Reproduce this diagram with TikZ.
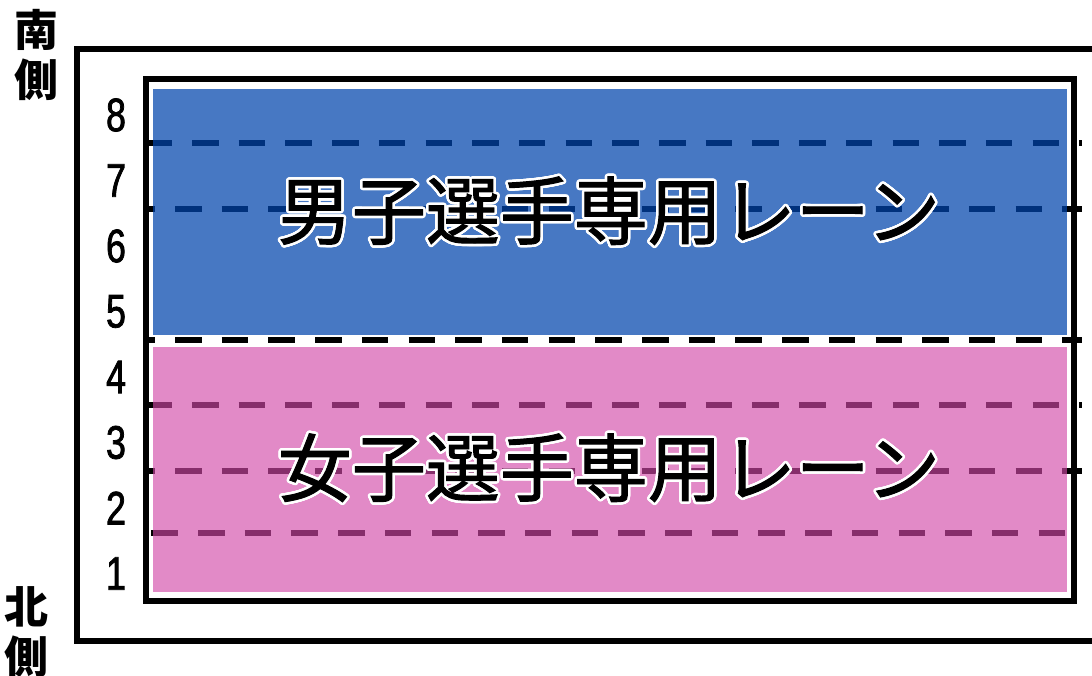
\documentclass[tikz,border=0pt]{standalone}
\usepackage{fontspec}
\usepackage{contour}
\setmainfont{Noto Sans CJK JP}
\newfontfamily\numfont[FakeStretch=0.76, FakeBold=1.6]{Liberation Sans}
\newfontfamily\titlefont[FakeBold=1.3]{Noto Sans CJK JP}
\contourlength{2.5pt}
\contournumber{32}
\definecolor{boysblue}{RGB}{0,68,172}
\definecolor{girlspink}{RGB}{210,72,168}

\begin{document}
\begin{tikzpicture}[
        x=1pt, y=-1pt,
        frame/.style={draw=black, line width=6pt},
        lane/.style={draw=black, line width=6pt, dash pattern=on 26.5pt off 20.2pt},
        laneno/.style={font=\numfont\fontsize{47}{50}\selectfont, inner sep=0pt},
        side/.style={font=\bfseries\fontsize{44}{50}\selectfont, align=center, inner sep=0pt},
        title/.style={font=\titlefont\fontsize{74}{80}\selectfont, inner sep=0pt},
    ]
    \useasboundingbox (0,0) rectangle (1092,675);
    % lane lines, the fills go over them
    \foreach \y/\ph in {143/44.4, 209/14.7, 340/14.7, 405/44.4, 471/14.7, 533/38.4}
        \draw[lane, dash phase={\ph pt}] (143,\y) -- (1082,\y);
    \fill[boysblue, fill opacity=0.72] (153,88.5) rectangle (1067,334.5);
    \fill[girlspink, fill opacity=0.64] (153,346.5) rectangle (1067,592);
    % frames
    \draw[frame] (1092,48.5) -- (76.5,48.5) -- (76.5,640.5) -- (1092,640.5);
    \draw[frame] (146,79) rectangle (1074,600.5);
    % lane numbers
    \foreach \n in {1,...,8}
        \node[laneno] (lane\n) at (116,{573.5-65.5*(\n-1)}) {\n};
    \node[side] (south) at (36,55) {南\\側};
    \node[side] (north) at (27,632) {北\\側};
    \node[title] (boys) at (609,212) {\contour{white}{男子選手専用レーン}};
    \node[title] (girls) at (609,469) {\contour{white}{女子選手専用レーン}};
\end{tikzpicture}
\end{document}
